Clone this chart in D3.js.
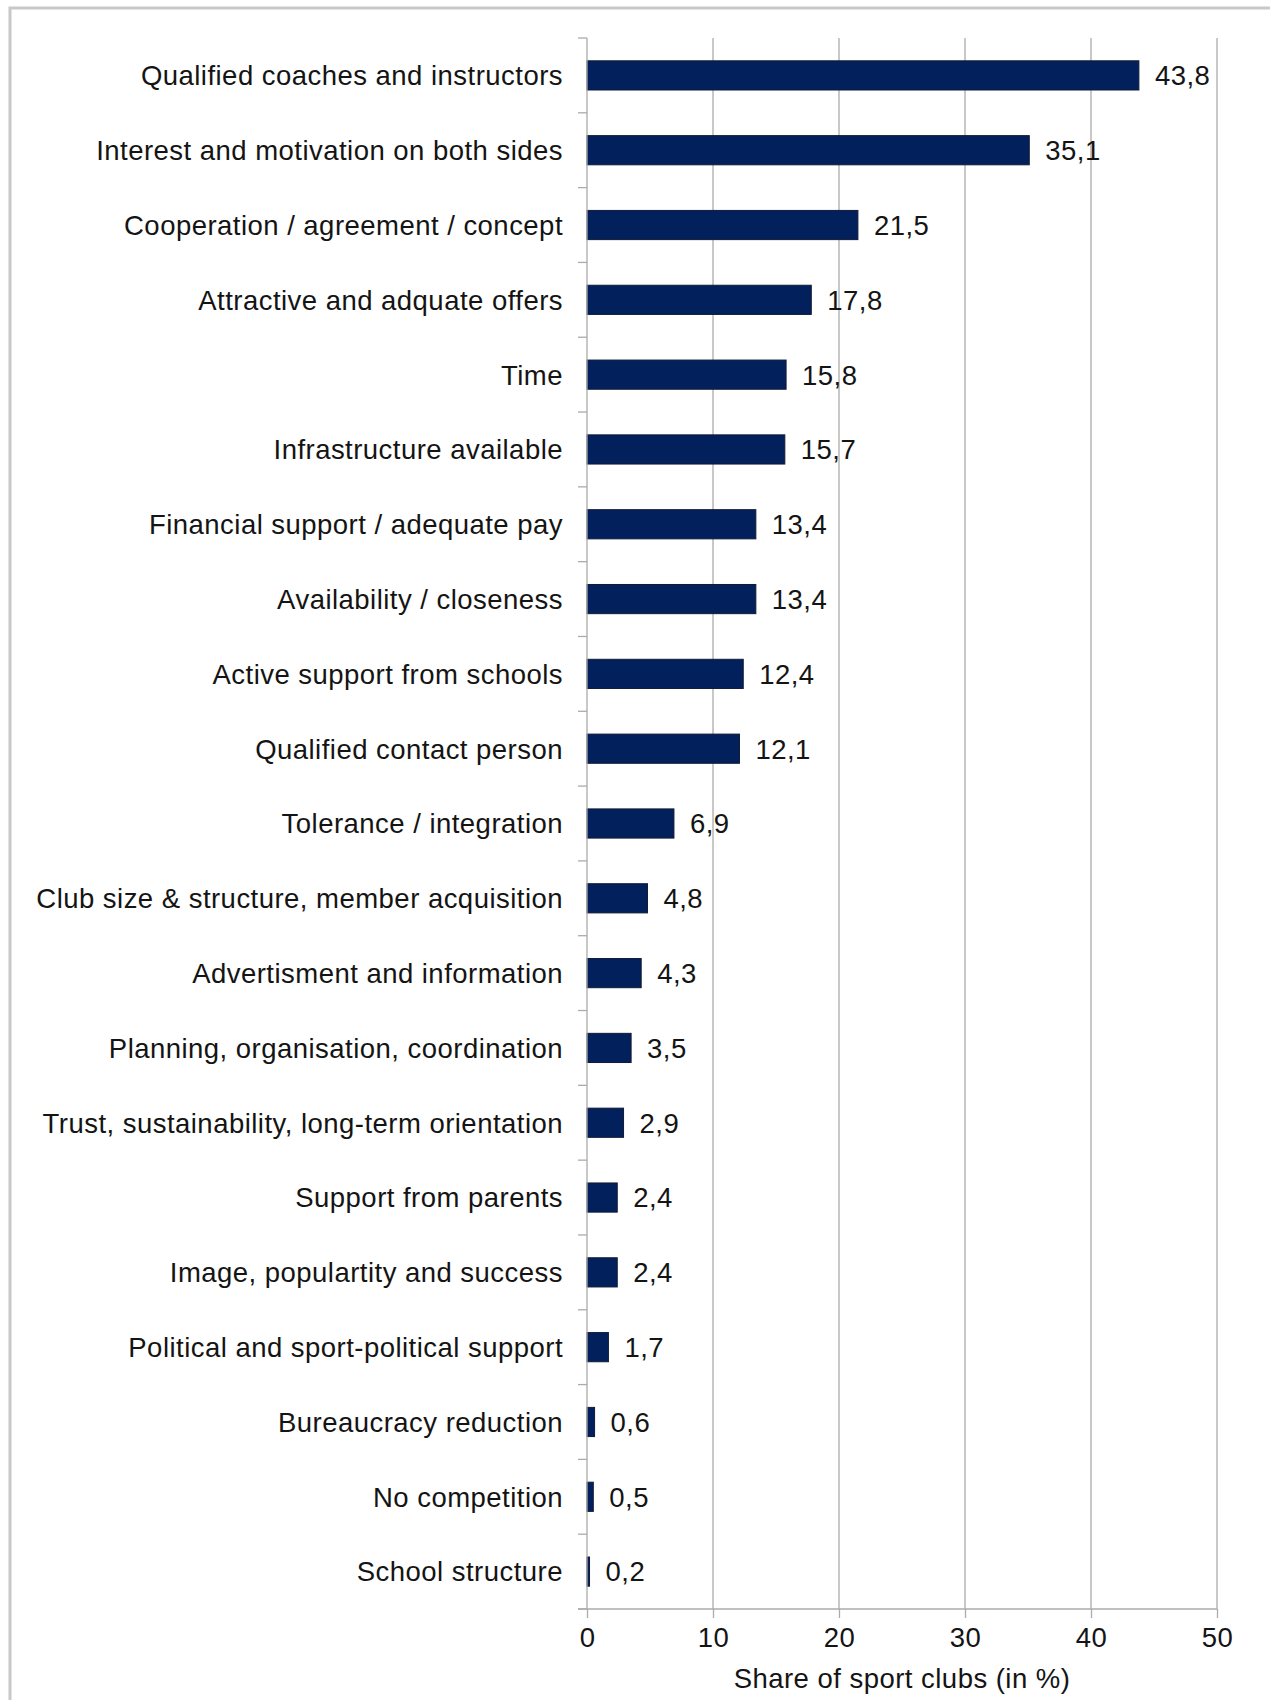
<!DOCTYPE html>
<html>
<head>
<meta charset="utf-8">
<script src="https://cdn.jsdelivr.net/npm/d3@7"></script>
<style>
  html, body { margin: 0; padding: 0; background: #fff; }
  svg text { font-family: "Liberation Sans", Arial, sans-serif; fill: #141414; letter-spacing: 0.47px; }
</style>
</head>
<body>
<svg id="chart" width="1270" height="1700"></svg>
<script>
// Factors for successful cooperation, share of sport clubs (in %)
const categories = [
  "Qualified coaches and instructors",
  "Interest and motivation on both sides",
  "Cooperation / agreement / concept",
  "Attractive and adquate offers",
  "Time",
  "Infrastructure available",
  "Financial support / adequate pay",
  "Availability / closeness",
  "Active support from schools",
  "Qualified contact person",
  "Tolerance / integration",
  "Club size & structure, member acquisition",
  "Advertisment and information",
  "Planning, organisation, coordination",
  "Trust, sustainability, long-term orientation",
  "Support from parents",
  "Image, populartity and success",
  "Political and sport-political support",
  "Bureaucracy reduction",
  "No competition",
  "School structure"
];
const shares = [43.8, 35.1, 21.5, 17.8, 15.8, 15.7, 13.4, 13.4, 12.4, 12.1,
                6.9, 4.8, 4.3, 3.5, 2.9, 2.4, 2.4, 1.7, 0.6, 0.5, 0.2];
const xTicks = [0, 10, 20, 30, 40, 50];
const xTitle = "Share of sport clubs (in %)";

const svg = d3.select("#chart");
const plot = { left: 587, right: 1217, top: 38, bottom: 1609 };
const fontSize = 27.5;
const gridColor = "#ababab";

// outer frame
svg.append("rect")
  .attr("x", 10).attr("y", 8)
  .attr("width", 1300).attr("height", 1750)
  .attr("fill", "none").attr("stroke", "#c8c8c8").attr("stroke-width", 3);

const x = d3.scaleLinear().domain([0, 50]).range([plot.left, plot.right]);
const y = d3.scaleBand().domain(categories).range([plot.top, plot.bottom]).paddingInner(0.61).paddingOuter(0.305);
const yEdges = d3.scaleLinear().domain([0, categories.length]).range([plot.top, plot.bottom]);

// vertical gridlines
svg.append("g").selectAll("line")
  .data(xTicks.filter(t => t > 0))
  .join("line")
  .attr("x1", d => x(d)).attr("x2", d => x(d))
  .attr("y1", plot.top).attr("y2", plot.bottom)
  .attr("stroke", gridColor).attr("stroke-width", 1.3);

// bars
svg.append("g").selectAll("rect")
  .data(categories)
  .join("rect")
  .attr("x", x(0))
  .attr("y", d => y(d))
  .attr("width", (d, i) => x(shares[i]) - x(0))
  .attr("height", y.bandwidth())
  .attr("fill", "#02215c")
  .attr("stroke", "#111a33")
  .attr("stroke-width", 1);

// value labels
svg.append("g").selectAll("text")
  .data(categories)
  .join("text")
  .attr("x", (d, i) => x(shares[i]) + 16)
  .attr("y", d => y(d) + y.bandwidth() / 2)
  .attr("dy", "0.36em")
  .attr("font-size", fontSize)
  .text((d, i) => d3.format(".1f")(shares[i]).replace(".", ","));

// y axis: line, tick marks between categories, labels
const yAxis = svg.append("g");
yAxis.append("line")
  .attr("x1", plot.left).attr("x2", plot.left)
  .attr("y1", plot.top).attr("y2", plot.bottom)
  .attr("stroke", gridColor).attr("stroke-width", 1.3);
yAxis.selectAll("line.tick")
  .data(d3.range(categories.length + 1))
  .join("line")
  .attr("class", "tick")
  .attr("x1", plot.left - 9).attr("x2", plot.left)
  .attr("y1", d => yEdges(d)).attr("y2", d => yEdges(d))
  .attr("stroke", gridColor).attr("stroke-width", 1.3);
yAxis.selectAll("text")
  .data(categories)
  .join("text")
  .attr("x", plot.left - 24)
  .attr("y", d => y(d) + y.bandwidth() / 2)
  .attr("dy", "0.36em")
  .attr("text-anchor", "end")
  .attr("font-size", fontSize)
  .text(d => d);

// x axis
const xAxis = svg.append("g").attr("transform", `translate(0,${plot.bottom})`)
  .call(d3.axisBottom(x).tickValues(xTicks).tickSize(9).tickPadding(9).tickFormat(d3.format("d")));
xAxis.select(".domain").remove();
xAxis.append("line")
  .attr("x1", plot.left - 9).attr("x2", plot.right)
  .attr("stroke", gridColor).attr("stroke-width", 1.3);
xAxis.selectAll(".tick line").attr("stroke", gridColor).attr("stroke-width", 1.3);
xAxis.selectAll(".tick text")
  .attr("font-size", fontSize)
  .attr("font-family", "Liberation Sans, Arial, sans-serif")
  .attr("fill", "#141414");

svg.append("text")
  .attr("x", (plot.left + plot.right) / 2)
  .attr("y", 1688)
  .attr("text-anchor", "middle")
  .attr("font-size", fontSize)
  .text(xTitle);
</script>
</body>
</html>
